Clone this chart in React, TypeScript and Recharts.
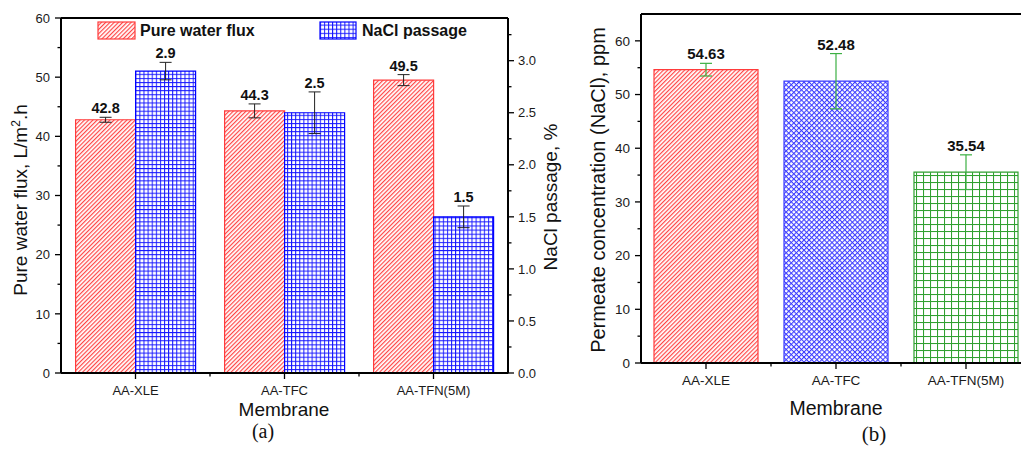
import React from 'react';
import { BarChart, Bar, XAxis, YAxis, ErrorBar, LabelList, ReferenceLine, Cell } from 'recharts';

const membranes = ['AA-XLE', 'AA-TFC', 'AA-TFN(5M)'];
const fluxValues = [42.8, 44.3, 49.5];
const fluxErrors = [0.42, 1.18, 0.93];
const naclValues = [2.9, 2.5, 1.5];
const naclErrors = [0.084, 0.2, 0.104];
const permeateValues = [54.63, 52.48, 35.54];
const permeateErrors = [1.18, 5.15, 3.23];

const fluxTicks = [0, 5, 10, 15, 20, 25, 30, 35, 40, 45, 50, 55, 60];
const naclTicks = [0, 0.25, 0.5, 0.75, 1, 1.25, 1.5, 1.75, 2, 2.25, 2.5, 2.75, 3, 3.25];
const permeateTicks = [0, 5, 10, 15, 20, 25, 30, 35, 40, 45, 50, 55, 60];

const permeateFills = ['url(#redHatch)', 'url(#blueCross)', 'url(#greenGrid)'];
const permeateStrokes = ['#ff3b3b', '#3a3aff', '#2ea02e'];

const FONT = '"Liberation Sans", Arial, Helvetica, sans-serif';
const SERIF = '"Liberation Serif", "Times New Roman", serif';

const dataA = membranes.map((name, i) => ({
  name,
  flux: fluxValues[i],
  fluxErr: fluxErrors[i],
  nacl: naclValues[i],
  naclErr: naclErrors[i],
}));

const dataB = membranes.map((name, i) => ({
  name,
  perm: permeateValues[i],
  permErr: permeateErrors[i],
}));

const isMajor = (v: number, step: number) => Math.abs(v / step - Math.round(v / step)) < 1e-6;

const makeYTick = (side: 'left' | 'right', step: number, fmt: (v: number) => string, fontSize: number) =>
  (p: any) => {
    const { x, y, payload } = p;
    const v = Number(payload.value);
    const major = isMajor(v, step);
    const len = major ? 6 : 3.5;
    if (side === 'left') {
      const ax = x + 10;
      return (
        <g>
          <line x1={ax - len} x2={ax} y1={y} y2={y} stroke="#000" strokeWidth={1.3} />
          {major && (
            <text x={ax - 11} y={y} dy="0.36em" textAnchor="end" fontSize={fontSize} fontFamily={FONT} fill="#1a1a1a">
              {fmt(v)}
            </text>
          )}
        </g>
      );
    }
    const ax = x - 10;
    return (
      <g>
        <line x1={ax} x2={ax + len} y1={y} y2={y} stroke="#000" strokeWidth={1.3} />
        {major && (
          <text x={ax + 10} y={y} dy="0.36em" textAnchor="start" fontSize={fontSize} fontFamily={FONT} fill="#1a1a1a">
            {fmt(v)}
          </text>
        )}
      </g>
    );
  };

const makeXTick = (step: number, fontSize: number) => (p: any) => {
  const { x, y, payload, index } = p;
  const ay = y - 10;
  return (
    <g>
      <line x1={x} x2={x} y1={ay} y2={ay + 6} stroke="#000" strokeWidth={1.3} />
      {index > 0 && <line x1={x - step / 2} x2={x - step / 2} y1={ay} y2={ay + 3.5} stroke="#000" strokeWidth={1.3} />}
      <text x={x} y={ay + 22} textAnchor="middle" fontSize={fontSize} fontFamily={FONT} fill="#1a1a1a">
        {payload.value}
      </text>
    </g>
  );
};

const makeLabel = (values: number[], errors: number[], pxPerUnit: number, fontSize: number) => (p: any) => {
  const vb = p.viewBox || {};
  const x = p.x ?? vb.x;
  const y = p.y ?? vb.y;
  const w = p.width ?? vb.width;
  const h = p.height ?? vb.height ?? 0;
  const val = Number(p.value);
  const i = values.indexOf(val);
  const err = i >= 0 ? errors[i] : 0;
  const top = Math.min(y, y + h);
  return (
    <text
      x={x + w / 2}
      y={top - err * pxPerUnit - 4}
      textAnchor="middle"
      fontSize={fontSize}
      fontWeight="bold"
      fontFamily={FONT}
      fill="#111"
    >
      {String(p.value)}
    </text>
  );
};

export default function App() {
  const axisLine = { stroke: '#000', strokeWidth: 2 };
  return (
    <div
      style={{
        position: 'absolute',
        left: 0,
        top: 0,
        width: 1021,
        height: 449,
        overflow: 'hidden',
        background: '#fff',
        fontFamily: FONT,
      }}
    >
      <svg width={0} height={0} style={{ position: 'absolute' }}>
        <defs>
          <pattern id="redHatch" width="3" height="3" patternUnits="userSpaceOnUse" patternTransform="rotate(45)">
            <rect width="3" height="3" fill="#fff" />
            <line x1="0.6" y1="0" x2="0.6" y2="3" stroke="#ff4040" strokeWidth="1.15" />
          </pattern>
          <pattern id="blueGrid" width="4.1" height="4.1" patternUnits="userSpaceOnUse">
            <rect width="4.1" height="4.1" fill="#fff" />
            <line x1="0.5" y1="0" x2="0.5" y2="4.1" stroke="#1515ff" strokeWidth="1" />
            <line x1="0" y1="0.5" x2="4.1" y2="0.5" stroke="#1515ff" strokeWidth="1" />
          </pattern>
          <pattern id="blueCross" width="3.6" height="3.6" patternUnits="userSpaceOnUse" patternTransform="rotate(45)">
            <rect width="3.6" height="3.6" fill="#fff" />
            <line x1="0.5" y1="0" x2="0.5" y2="3.6" stroke="#3a3aff" strokeWidth="1.1" />
            <line x1="0" y1="0.5" x2="3.6" y2="0.5" stroke="#3a3aff" strokeWidth="1.1" />
          </pattern>
          <pattern id="greenGrid" width="7" height="7" patternUnits="userSpaceOnUse">
            <rect width="7" height="7" fill="#fff" />
            <line x1="0.5" y1="0" x2="0.5" y2="7" stroke="#30a030" strokeWidth="1.1" />
            <line x1="0" y1="0.5" x2="7" y2="0.5" stroke="#30a030" strokeWidth="1.1" />
          </pattern>
        </defs>
      </svg>

      <div style={{ position: 'absolute', left: 0, top: 0 }}>
        <BarChart
          width={575}
          height={449}
          data={dataA}
          margin={{ top: 18, right: 0, bottom: 36, left: 0 }}
          barGap={0}
          barCategoryGap="9.8%"
        >
          <XAxis
            dataKey="name"
            height={40}
            tickSize={6}
            tickMargin={4}
            tickLine={false}
            axisLine={axisLine}
            interval={0}
            tick={makeXTick(149, 13)}
          />
          <YAxis
            yAxisId="left"
            width={61}
            domain={[0, 60]}
            ticks={fluxTicks}
            interval={0}
            tickSize={6}
            tickMargin={4}
            tickLine={false}
            axisLine={axisLine}
            tick={makeYTick('left', 10, (v) => String(v), 13)}
          />
          <YAxis
            yAxisId="right"
            orientation="right"
            width={67}
            domain={[0, 3.41]}
            ticks={naclTicks}
            interval={0}
            tickSize={6}
            tickMargin={4}
            tickLine={false}
            axisLine={axisLine}
            tick={makeYTick('right', 0.5, (v) => v.toFixed(1), 13)}
          />
          <ReferenceLine yAxisId="left" y={60} stroke="#000" strokeWidth={2} />
          <Bar yAxisId="left" dataKey="flux" fill="url(#redHatch)" stroke="#ff3b3b" strokeWidth={1.2} isAnimationActive={false}>
            <ErrorBar dataKey="fluxErr" width={6} stroke="#222" strokeWidth={1} />
            <LabelList dataKey="flux" content={makeLabel(fluxValues, fluxErrors, 355 / 60, 14.5)} />
          </Bar>
          <Bar yAxisId="right" dataKey="nacl" fill="url(#blueGrid)" stroke="#0000ff" strokeWidth={1.2} isAnimationActive={false}>
            <ErrorBar dataKey="naclErr" width={6} stroke="#222" strokeWidth={1} />
            <LabelList dataKey="nacl" content={makeLabel(naclValues, naclErrors, 355 / 3.41, 14.5)} />
          </Bar>
        </BarChart>
      </div>

      <div style={{ position: 'absolute', left: 580, top: 0 }}>
        <BarChart
          width={461}
          height={449}
          data={dataB}
          margin={{ top: 14, right: 10, bottom: 46, left: 0 }}
          barCategoryGap="10%"
        >
          <XAxis
            dataKey="name"
            height={40}
            tickSize={6}
            tickMargin={4}
            tickLine={false}
            axisLine={axisLine}
            interval={0}
            tick={makeXTick(130, 13.5)}
          />
          <YAxis
            width={61}
            domain={[0, 65]}
            ticks={permeateTicks}
            interval={0}
            tickSize={6}
            tickMargin={4}
            tickLine={false}
            axisLine={axisLine}
            tick={makeYTick('left', 10, (v) => String(v), 13.5)}
          />
          <ReferenceLine y={65} stroke="#000" strokeWidth={2} />
          <Bar dataKey="perm" strokeWidth={1.2} isAnimationActive={false}>
            {dataB.map((d, i) => (
              <Cell key={d.name} fill={permeateFills[i]} stroke={permeateStrokes[i]} />
            ))}
            <ErrorBar dataKey="permErr" width={6} stroke="#3cb043" strokeWidth={1.2} />
            <LabelList dataKey="perm" content={makeLabel(permeateValues, permeateErrors, 349 / 65, 15)} />
          </Bar>
        </BarChart>
      </div>

      <svg
        width={1021}
        height={449}
        style={{ position: 'absolute', left: 0, top: 0, pointerEvents: 'none' }}
      >
        {/* legend of chart (a) */}
        <rect x={98} y={22} width={37} height={17} fill="url(#redHatch)" stroke="#ff3b3b" strokeWidth={1.2} />
        <text x={140} y={35.5} fontSize={16} fontWeight="bold" fontFamily={FONT} fill="#111">
          Pure water flux
        </text>
        <rect x={320} y={22} width={36} height={17} fill="url(#blueGrid)" stroke="#0000ff" strokeWidth={1.2} />
        <text x={362} y={35.5} fontSize={16} fontWeight="bold" fontFamily={FONT} fill="#111">
          NaCl passage
        </text>

        {/* axis titles of chart (a) */}
        <text
          x={27}
          y={200}
          transform="rotate(-90 27 200)"
          textAnchor="middle"
          fontSize={19}
          fontFamily={FONT}
          fill="#111"
        >
          Pure water flux, L/m
          <tspan fontSize={12} dy={-7}>2</tspan>
          <tspan dy={7}>.h</tspan>
        </text>
        <text
          x={557}
          y={197}
          transform="rotate(-90 557 197)"
          textAnchor="middle"
          fontSize={19}
          fontFamily={FONT}
          fill="#111"
        >
          NaCl passage, %
        </text>
        <text x={284} y={416} textAnchor="middle" fontSize={19} fontFamily={FONT} fill="#111">
          Membrane
        </text>
        <text x={263} y={438} textAnchor="middle" fontSize={20} fontFamily={SERIF} fill="#111">
          (a)
        </text>

        {/* axis titles of chart (b) */}
        <text
          x={605}
          y={190}
          transform="rotate(-90 605 190)"
          textAnchor="middle"
          fontSize={20}
          fontFamily={FONT}
          fill="#111"
        >
          Permeate concentration (NaCl), ppm
        </text>
        <text x={836} y={415} textAnchor="middle" fontSize={19.5} fontFamily={FONT} fill="#111">
          Membrane
        </text>
        <text x={874} y={441} textAnchor="middle" fontSize={21} fontFamily={SERIF} fill="#111">
          (b)
        </text>
      </svg>
    </div>
  );
}
